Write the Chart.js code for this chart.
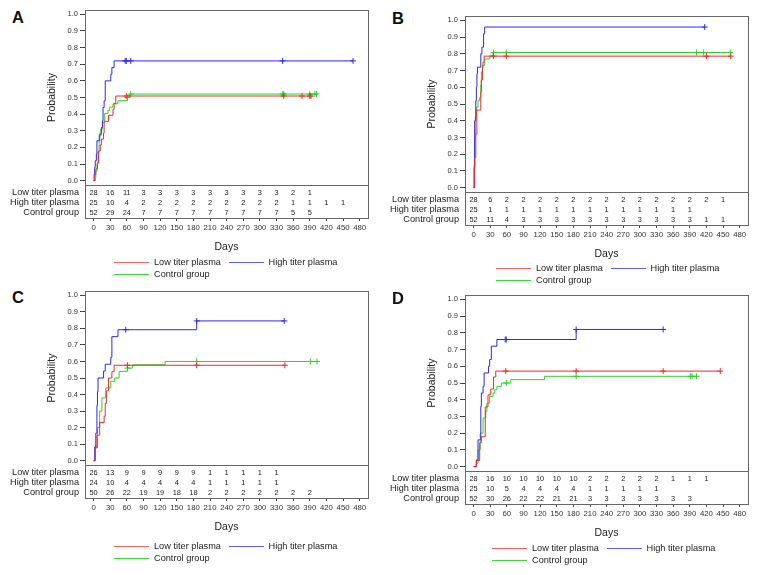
<!DOCTYPE html>
<html>
<head>
<meta charset="utf-8">
<script src="https://cdn.jsdelivr.net/npm/chart.js@4.4.1/dist/chart.umd.min.js"></script>
<style>
  html, body { margin: 0; padding: 0; background: #fff; }
  #fig { position: relative; width: 759px; height: 575px; overflow: hidden;
         font-family: "Liberation Sans", Arial, sans-serif; color: #222; }
  #fig canvas { position: absolute; }
  .tag { position: absolute; font-weight: bold; font-size: 16.5px; line-height: 16.5px; color: #111; }
  .lg { position: absolute; font-size: 9.2px; line-height: 11px; white-space: nowrap; color: #222; }
  .sw { position: absolute; width: 35px; height: 0; border-top: 1px solid; }
</style>
</head>
<body>
<div id="fig"></div>
<script>
"use strict";

// ---------- data ----------
const days = [0, 30, 60, 90, 120, 150, 180, 210, 240, 270, 300, 330, 360, 390, 420, 450, 480];
const yTicks = [0, 0.1, 0.2, 0.3, 0.4, 0.5, 0.6, 0.7, 0.8, 0.9, 1.0];
const groups = ["Low titer plasma", "High titer plasma", "Control group"];

// step curves as [day, cumulative probability]; censor marks as days
const aLow  = [[0,0],[2,0.036],[4,0.071],[7,0.107],[9,0.179],[12,0.214],[14,0.25],[18,0.286],[19,0.357],[27,0.393],[35,0.429],[37,0.464],[40,0.509]];
const aHigh = [[0,0],[1,0.04],[2,0.08],[3,0.12],[5,0.16],[6,0.24],[11,0.28],[14,0.32],[16,0.36],[17,0.44],[19,0.48],[21,0.6],[31,0.64],[33,0.68],[37,0.72]];
const aCtrl = [[0,0],[3,0.019],[4,0.058],[6,0.1],[8,0.173],[10,0.27],[13,0.31],[16,0.35],[20,0.404],[26,0.423],[29,0.442],[35,0.462],[44,0.481],[61,0.5],[65,0.521]];
const aLowCens  = [59, 343, 376, 390, 392];
const aHighCens = [57, 59, 67, 341, 468];
const aCtrlCens = [61, 67, 341, 343, 390, 399, 402];
const aLowRisk  = [28, 16, 11, 3, 3, 3, 3, 3, 3, 3, 3, 3, 2, 1];
const aHighRisk = [25, 10, 4, 2, 2, 2, 2, 2, 2, 2, 2, 2, 1, 1, 1, 1];
const aCtrlRisk = [52, 29, 24, 7, 7, 7, 7, 7, 7, 7, 7, 7, 5, 5];

const bLow  = [[0,0],[2,0.179],[4,0.321],[6,0.464],[13,0.571],[14,0.643],[16,0.714],[17,0.75],[19,0.786]];
const bHigh = [[0,0],[1,0.12],[2,0.4],[4,0.52],[5,0.6],[6,0.68],[7,0.72],[13,0.8],[15,0.84],[18,0.92],[20,0.96]];
const bCtrl = [[0,0],[1,0.135],[2,0.29],[3,0.423],[5,0.481],[8,0.519],[11,0.538],[13,0.615],[14,0.692],[16,0.731],[20,0.769],[29,0.788],[35,0.808]];
const bLowCens  = [36, 59, 420, 464];
const bHighCens = [417];
const bCtrlCens = [36, 59, 402, 415, 463];
const bLowRisk  = [28, 6, 2, 2, 2, 2, 2, 2, 2, 2, 2, 2, 2, 2, 2, 1];
const bHighRisk = [25, 1, 1, 1, 1, 1, 1, 1, 1, 1, 1, 1, 1, 1];
const bCtrlRisk = [52, 11, 4, 3, 3, 3, 3, 3, 3, 3, 3, 3, 3, 3, 1, 1];

const cLow  = [[0,0],[3,0.077],[6,0.154],[11,0.231],[19,0.269],[21,0.346],[23,0.423],[27,0.5],[33,0.538],[37,0.577]];
const cHigh = [[0,0],[2,0.083],[4,0.167],[6,0.333],[7,0.417],[8,0.5],[18,0.542],[21,0.583],[31,0.625],[33,0.75],[44,0.792],[186,0.845]];
const cCtrl = [[0,0],[3,0.08],[7,0.2],[11,0.3],[15,0.38],[22,0.44],[31,0.48],[38,0.5],[46,0.54],[61,0.56],[70,0.58],[129,0.6]];
const cLowCens  = [61, 186, 345];
const cHighCens = [58, 186, 344];
const cCtrlCens = [61, 186, 391, 403];
const cLowRisk  = [26, 13, 9, 9, 9, 9, 9, 1, 1, 1, 1, 1];
const cHighRisk = [24, 10, 4, 4, 4, 4, 4, 1, 1, 1, 1, 1];
const cCtrlRisk = [50, 26, 22, 19, 19, 18, 18, 2, 2, 2, 2, 2, 2, 2];

const dLow  = [[0,0],[5,0.036],[11,0.143],[14,0.179],[21,0.357],[26,0.429],[31,0.464],[36,0.536],[40,0.571]];
const dHigh = [[0,0],[5,0.04],[8,0.16],[13,0.36],[14,0.44],[17,0.48],[19,0.56],[27,0.6],[29,0.64],[32,0.72],[42,0.76],[185,0.82]];
const dCtrl = [[0,0],[5,0.02],[8,0.1],[12,0.2],[17,0.29],[22,0.33],[24,0.38],[29,0.42],[35,0.44],[38,0.46],[42,0.48],[50,0.5],[67,0.52],[128,0.54]];
const dLowCens  = [58, 185, 342, 445];
const dHighCens = [57, 59, 185, 342];
const dCtrlCens = [59, 185, 391, 394, 402];
const dLowRisk  = [28, 16, 10, 10, 10, 10, 10, 2, 2, 2, 2, 2, 1, 1, 1];
const dHighRisk = [25, 10, 5, 4, 4, 4, 4, 1, 1, 1, 1, 1];
const dCtrlRisk = [52, 30, 26, 22, 22, 21, 21, 3, 3, 3, 3, 3, 3, 3];

// ---------- layout / style ----------
const colors = ["#ff2525", "#2828ff", "#2ad42a"];
const legendColors = ["#ff5c5c", "#5a5aff", "#33dd33"];
const X_MIN = -15.5, X_MAX = 495;
const Y_MIN = -0.026, Y_MAX = 1.026;

// legY is the swatch row (kept on even pixel rows), text centres sit ~1px below
const panels = [
  { tag: "A", ox: 0,   top: 10,  bot: 185, tbot: 218, legX: 114, legY: 262, tagY: 9,
    curves: [aLow, aHigh, aCtrl], cens: [aLowCens, aHighCens, aCtrlCens], risk: [aLowRisk, aHighRisk, aCtrlRisk] },
  { tag: "B", ox: 380, top: 16,  bot: 192, tbot: 225, legX: 116, legY: 268, tagY: 9.5,
    curves: [bLow, bHigh, bCtrl], cens: [bLowCens, bHighCens, bCtrlCens], risk: [bLowRisk, bHighRisk, bCtrlRisk] },
  { tag: "C", ox: 0,   top: 291, bot: 465, tbot: 498, legX: 114, legY: 546, tagY: 289,
    curves: [cLow, cHigh, cCtrl], cens: [cLowCens, cHighCens, cCtrlCens], risk: [cLowRisk, cHighRisk, cCtrlRisk] },
  { tag: "D", ox: 380, top: 295, bot: 471, tbot: 504, legX: 112, legY: 548, tagY: 289.5,
    curves: [dLow, dHigh, dCtrl], cens: [dLowCens, dHighCens, dCtrlCens], risk: [dLowRisk, dHighRisk, dCtrlRisk] },
];

Chart.defaults.font.family = '"Liberation Sans", Arial, sans-serif';
Chart.defaults.color = "#222";
Chart.defaults.animation = false;

const fig = document.getElementById("fig");

// ---------- helpers ----------
function stepAt(curve, t) {
  let p = 0;
  for (const [d, v] of curve) if (d <= t) p = v;
  return p;
}
// carry the last level out to the last censored day
function extend(curve, cens) {
  const last = curve[curve.length - 1];
  const end = Math.max(...cens);
  return end > last[0] ? curve.concat([[end, last[1]]]) : curve;
}
function mkCanvas(left, top, w, h) {
  const cv = document.createElement("canvas");
  cv.width = w; cv.height = h;
  cv.style.left = left + "px"; cv.style.top = top + "px";
  cv.style.width = w + "px"; cv.style.height = h + "px";
  fig.appendChild(cv);
  return cv;
}

// frame round the chart area
const boxPlugin = {
  id: "box",
  afterDatasetsDraw(chart) {
    const a = chart.chartArea, c = chart.ctx;
    const l = Math.round(a.left), t = Math.round(a.top);
    const r = Math.round(a.right), b = Math.round(a.bottom);
    c.save();
    c.strokeStyle = "#666";
    c.lineWidth = 1;
    c.strokeRect(l + 0.5, t + 0.5, r - l, b - t);
    c.restore();
  }
};

// numbers-at-risk table text
const riskPlugin = {
  id: "risk",
  afterDraw(chart, args, opts) {
    const xs = chart.scales.x, ys = chart.scales.y, c = chart.ctx;
    c.save();
    c.font = '7.4px "Liberation Sans", Arial, sans-serif';
    c.fillStyle = "#222";
    c.textAlign = "center";
    c.textBaseline = "middle";
    opts.rows.forEach((row, r) => {
      row.forEach((n, i) => {
        c.fillText(String(n), xs.getPixelForValue(days[i]), ys.getPixelForValue(r));
      });
    });
    c.restore();
  }
};

// ---------- build panels ----------
function buildPanel(p) {
  // panel letter
  const tag = document.createElement("div");
  tag.className = "tag";
  tag.textContent = p.tag;
  tag.style.left = (p.ox + 12) + "px";
  tag.style.top = p.tagY + "px";
  fig.appendChild(tag);

  // survival curves
  const datasets = [];
  p.curves.forEach((curve, i) => {
    datasets.push({
      type: "line", label: groups[i],
      data: extend(curve, p.cens[i]).map(([x, y]) => ({ x, y })),
      borderColor: colors[i], borderWidth: 1, pointRadius: 0, stepped: "before", fill: false,
    });
    datasets.push({
      type: "scatter", label: groups[i] + " censored",
      data: p.cens[i].map(t => ({ x: t, y: stepAt(curve, t) })),
      pointStyle: "cross", pointRadius: 3, borderColor: colors[i], borderWidth: 1,
      backgroundColor: colors[i],
    });
  });

  const upH = (p.bot - p.top) + 18;
  new Chart(mkCanvas(p.ox, p.top - 10, 380, upH), {
    type: "line",
    data: { datasets },
    options: {
      responsive: false,
      layout: { padding: { left: 46, right: 12, top: 10, bottom: 8 } },
      plugins: { legend: { display: false }, tooltip: { enabled: false } },
      scales: {
        x: { type: "linear", min: X_MIN, max: X_MAX, display: false },
        y: {
          type: "linear", min: Y_MIN, max: Y_MAX,
          afterBuildTicks: s => { s.ticks = yTicks.map(v => ({ value: v })); },
          afterFit: s => { s.width = 39; },
          grid: { drawOnChartArea: false, drawTicks: true, tickLength: 5, color: "#444" },
          border: { display: false },
          ticks: { padding: 2, font: { size: 7.5 }, color: "#333", callback: v => v.toFixed(1) },
          title: { display: true, text: "Probability", font: { size: 10.5 }, color: "#222",
                   padding: { top: 0, bottom: 0 } },
        },
      },
    },
    plugins: [boxPlugin],
  });

  // at-risk table + days axis
  const loH = 12 + (p.tbot - p.bot) + 40;
  new Chart(mkCanvas(p.ox, p.bot - 12, 380, loH), {
    type: "scatter",
    data: { datasets: [] },
    options: {
      responsive: false,
      layout: { padding: { left: 0, right: 12, top: 12, bottom: 0 } },
      plugins: { legend: { display: false }, tooltip: { enabled: false }, risk: { rows: p.risk } },
      scales: {
        x: {
          type: "linear", position: "bottom", min: X_MIN, max: X_MAX,
          afterBuildTicks: s => { s.ticks = days.map(v => ({ value: v })); },
          afterFit: s => { s.height = 40; },
          grid: { drawOnChartArea: false, drawTicks: true, tickLength: 3, color: "#444" },
          border: { display: false },
          ticks: { padding: 2, font: { size: 7.8 }, color: "#333", maxRotation: 0, autoSkip: false,
                   callback: v => String(v) },
          title: { display: true, text: "Days", font: { size: 10.5 }, color: "#222",
                   padding: { top: 0, bottom: 5 } },
        },
        y: {
          type: "linear", reverse: true, min: -0.75, max: 2.5,
          afterBuildTicks: s => { s.ticks = [0, 1, 2].map(v => ({ value: v })); },
          afterFit: s => { s.width = 85; },
          grid: { display: false, drawTicks: false },
          border: { display: false },
          ticks: { padding: 6, font: { size: 9.2 }, color: "#222", callback: v => groups[v] },
        },
      },
    },
    plugins: [boxPlugin, riskPlugin],
  });

  // legend
  const spots = [[p.legX, p.legY], [p.legX + 114.5, p.legY], [p.legX, p.legY + 12]];
  spots.forEach(([lx, ly], i) => {
    const sw = document.createElement("div");
    sw.className = "sw";
    sw.style.left = Math.round(p.ox + lx) + "px";
    sw.style.top = ly + "px";
    sw.style.borderTopColor = legendColors[i];
    fig.appendChild(sw);
    const tx = document.createElement("span");
    tx.className = "lg";
    tx.textContent = groups[i];
    tx.style.left = (p.ox + lx + 40) + "px";
    tx.style.top = (ly - 5) + "px";
    fig.appendChild(tx);
  });
}

panels.forEach(buildPanel);
</script>
</body>
</html>
